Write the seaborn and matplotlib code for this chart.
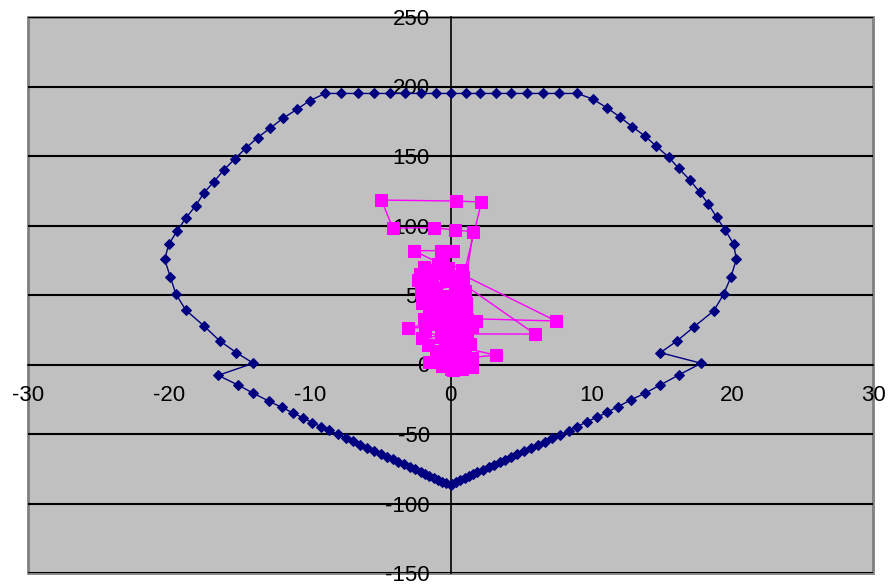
import seaborn as sns
import matplotlib.pyplot as plt

# Enveloppe (série bleu marine)
env_x = [0.0, -0.3, -0.6, -0.9, -1.2, -1.5, -1.8, -2.1, -2.5, -2.9, -3.3, -3.7, -4.1, -4.5, -4.9,
         -5.4, -5.9, -6.4, -6.9, -7.4, -8.0, -8.6, -9.2, -9.8, -10.5, -11.2, -12.0, -12.9, -14.0,
         -15.1, -16.5, -14.0, -15.2, -16.4, -17.5, -18.8, -19.5, -19.9, -20.3, -20.0, -19.4, -18.8,
         -18.1, -17.5, -16.8, -16.1, -15.3, -14.5, -13.7, -12.8, -11.9, -10.9, -10.0,
         -8.9, -7.8, -6.6, -5.4, -4.3, -3.2, -2.1, -1.0, 0.0, 1.1, 2.1, 3.2, 4.3, 5.4, 6.6, 7.7, 9.0,
         10.1, 11.1, 12.0, 12.9, 13.8, 14.6, 15.5, 16.2, 17.0, 17.7, 18.3, 18.9, 19.5, 20.1, 20.3,
         19.9, 19.4, 18.7, 17.3, 16.1, 14.9, 17.8, 16.2, 14.9, 13.8, 12.8, 11.9, 11.1, 10.4, 9.7,
         9.0, 8.4, 7.8, 7.2, 6.7, 6.2, 5.7, 5.2, 4.7, 4.3, 3.9, 3.5, 3.1, 2.7, 2.3, 1.9, 1.6, 1.3,
         1.0, 0.7, 0.4, 0.1]
env_y = [-87.0, -85.6, -84.2, -82.9, -81.5, -80.1, -78.7, -77.3, -75.5, -73.7, -71.8, -70.0, -68.1,
         -66.3, -64.5, -62.2, -59.9, -57.6, -55.3, -53.0, -50.2, -47.4, -44.7, -41.9, -38.3, -34.7,
         -30.8, -26.3, -20.7, -14.7, -7.8, 0.9, 8.5, 17.1, 27.7, 39.2, 50.7, 63.2, 75.7, 86.5, 96.3,
         105.2, 114.2, 123.6, 131.5, 139.9, 148.1, 156.0, 163.2, 170.1, 177.1, 183.6, 189.8,
         195, 195, 195, 195, 195, 195, 195, 195, 195, 195, 195, 195, 195, 195, 195, 195, 195,
         191.0, 184.7, 178.3, 171.1, 164.4, 157.2, 149.1, 141.1, 132.7, 123.9, 115.5, 105.9, 96.8,
         86.7, 75.7, 62.7, 50.7, 38.7, 27.2, 17.1, 8.5, 0.9, -7.6, -14.7, -20.7, -25.5, -30.3,
         -34.4, -38.0, -41.1, -44.7, -47.6, -50.4, -53.2, -55.5, -57.8, -60.1, -62.4, -64.7, -66.5,
         -68.4, -70.3, -72.1, -74.0, -75.8, -77.6, -79.0, -80.4, -81.8, -83.2, -84.6, -86.0]

# Mesures (série magenta)
mes_x = [0.0, 0.6, -0.4, 1.2, 0.3, -0.8, 1.5, 3.2, 0.9, -0.2, -1.0, 0.4, 1.4, -2.0, -0.5, 0.8,
         -0.3, -3.0, -1.2, 0.5, 1.8, -0.8, 0.2, -1.5, 0.7, -0.5, -1.7, 0.3, -1.0, 0.9, 6.0, 1.0,
         1.5, -0.6, 0.6, -1.9, -0.3, -1.4, 0.5, -2.2, -0.2, -1.6, 0.2, -0.7, -2.6, 7.5, 1.2, 0.0,
         -1.1, 0.7, 1.6, 0.3, -1.2, -4.1, -4.9, 0.4, 2.2, 0.9, -0.9, -1.8, 0.1, -1.3, 1.1, -0.4,
         0.6, -0.6, -1.5, -0.9, -1.6, -0.7, -1.8, -1.0, -1.9, -0.9, -2.0, -1.2, -2.1, -1.3, -2.3,
         -0.8, -1.9, -0.5, 0.8, -0.1, 1.0, -0.2, 1.1, -0.1, 1.3, 0.2, 1.2, 0.0, 1.0, -0.1, 1.5,
         0.8, 0.2]
mes_y = [-3, 2, 5, 0, 9, 3, 5, 6.8, 12, 14, 10, 18, 15, 18.8, 21, 24,
         27, 26.3, 30, 31, 31, 36, 38, 41, 43, 46, 49, 51, 54, 58, 21.9, 22,
         27, 33, 57, 58, 60, 63, 64, 65, 69.4, 68, 81.9, 81.9, 81.9, 31.3, 33, 40,
         45, 32, 95.5, 96.8, 98.4, 98.2, 118.3, 117.6, 116.9, 63, 72, 55, 47, 37, 39, 17,
         8, -1, 2, 8, 14, 20, 24, 29, 33, 40, 44, 50, 53, 60, 61,
         66, 70, 75, 68, 62, 53, 49, 44, 35, 27, 24, 19, 12, 9, 2, -2,
         -3, -4]

x_ticks = [-30, -20, -10, 0, 10, 20, 30]
y_ticks = [-150, -100, -50, 0, 50, 100, 150, 200, 250]

sns.set_style("white")
plt.rcParams['font.family'] = ['Liberation Sans', 'DejaVu Sans']
plt.rcParams['axes.unicode_minus'] = False

fig = plt.figure(figsize=(8.91, 5.85), dpi=100)
ax = fig.add_axes([28 / 891, 12 / 585, 845 / 891, 556 / 585])
ax.set_facecolor('#C0C0C0')

for y in y_ticks:
    ax.axhline(y, color='black', lw=1.5, zorder=1)

sns.lineplot(x=env_x, y=env_y, sort=False, estimator=None, ax=ax, color='#000080', lw=1,
             marker='D', markersize=5, markeredgecolor='#000080', zorder=3)
sns.lineplot(x=mes_x, y=mes_y, sort=False, estimator=None, ax=ax, color='#FF00FF', lw=1,
             marker='s', markersize=8.5, markeredgecolor='#FF00FF', zorder=4)

ax.set_xlim(-30, 30)
ax.set_ylim(-150, 250)
ax.set_xticks(x_ticks)
ax.set_yticks(y_ticks)
ax.set_xlabel('')
ax.set_ylabel('')

ax.spines['left'].set_position(('data', 0))
ax.spines['bottom'].set_position(('data', 0))
for s in ['left', 'bottom']:
    ax.spines[s].set_color('black')
    ax.spines[s].set_linewidth(1.2)
    ax.spines[s].set_zorder(2)
ax.spines['top'].set_visible(False)
ax.spines['right'].set_visible(False)
ax.patch.set_edgecolor('#808080')
ax.patch.set_linewidth(2)

ax.set_axisbelow(False)
ax.tick_params(axis='both', direction='out', length=5, width=1.2, color='black',
               labelsize=16, pad=10, labelcolor='black')

fig.savefig('out.png', dpi=100)
